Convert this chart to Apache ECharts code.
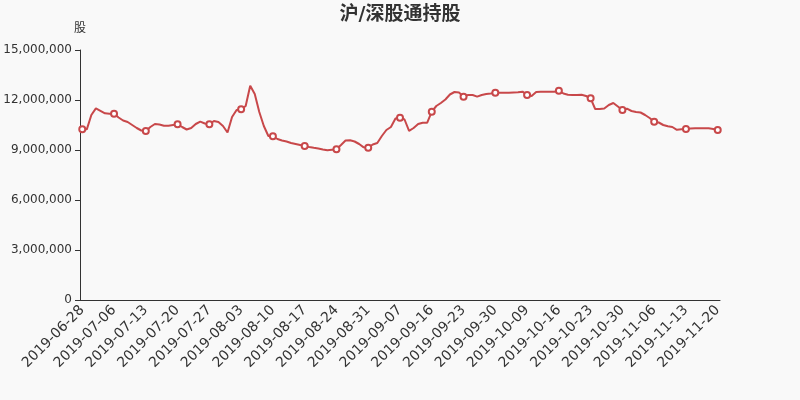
<!DOCTYPE html>
<html>
<head>
<meta charset="utf-8">
<script src="https://cdn.jsdelivr.net/npm/echarts@6/dist/echarts.min.js"></script>
<style>html,body{margin:0;padding:0;background:#f9f9f9;}#c{width:800px;height:400px;}</style>
</head>
<body>
<div id="c"></div>
<script>
var titleText = '沪/深股通持股';
var yName = '股';
var missingDates = ['2019-07-01', '2019-09-13', '2019-09-14', '2019-10-01', '2019-10-07'];
var startDate = '2019-06-28';
var endDate = '2019-11-20';
var holdings = [
  10.24, 10.24, 11.1, 11.5, 11.35, 11.2, 11.18, 11.18, 10.95, 10.77,
  10.68, 10.5, 10.32, 10.17, 10.14, 10.38, 10.56, 10.53, 10.46, 10.46,
  10.5, 10.54, 10.38, 10.23, 10.32, 10.56, 10.7, 10.59, 10.54, 10.74,
  10.68, 10.44, 10.05, 10.98, 11.4, 11.44, 11.64, 12.85, 12.36, 11.28,
  10.44, 9.84, 9.82, 9.66, 9.57, 9.51, 9.42, 9.36, 9.3, 9.24,
  9.18, 9.13, 9.09, 9.03, 8.98, 9.02, 9.04, 9.3, 9.57, 9.58,
  9.51, 9.36, 9.16, 9.14, 9.33, 9.42, 9.84, 10.2, 10.38, 10.89,
  10.94, 10.83, 10.15, 10.32, 10.56, 10.64, 10.64, 11.3, 11.64, 11.82,
  12.03, 12.33, 12.48, 12.45, 12.2, 12.3, 12.3, 12.2, 12.3, 12.36,
  12.39, 12.44, 12.44, 12.44, 12.44, 12.45, 12.46, 12.5, 12.3, 12.24,
  12.48, 12.5, 12.5, 12.5, 12.5, 12.56, 12.39, 12.32, 12.3, 12.3,
  12.32, 12.24, 12.1, 11.46, 11.46, 11.49, 11.7, 11.82, 11.61, 11.4,
  11.48, 11.34, 11.28, 11.25, 11.1, 10.92, 10.7, 10.65, 10.5, 10.42,
  10.38, 10.21, 10.24, 10.26, 10.29, 10.3, 10.3, 10.3, 10.3, 10.26,
  10.2
];

function buildDates(s, e, skip) {
  var out = [];
  var d = new Date(s + 'T00:00:00Z');
  var end = new Date(e + 'T00:00:00Z');
  while (d <= end) {
    var str = d.toISOString().slice(0, 10);
    if (skip.indexOf(str) < 0) out.push(str);
    d.setUTCDate(d.getUTCDate() + 1);
  }
  return out;
}
var dates = buildDates(startDate, endDate, missingDates);
var values = holdings.map(function (v) { return Math.round(v * 1000000); });

var FONT = "'DejaVu Sans', 'Noto Sans CJK SC', sans-serif";
var chart = echarts.init(document.getElementById('c'));
chart.setOption({
  backgroundColor: '#f9f9f9',
  animation: false,
  textStyle: { fontFamily: FONT },
  title: {
    text: titleText,
    left: 'center',
    top: 1,
    textStyle: { fontSize: 19, fontWeight: 'bold', color: '#333', fontFamily: FONT }
  },
  grid: { left: 80, right: 80, top: 50, bottom: 100 },
  xAxis: {
    type: 'category',
    data: dates,
    boundaryGap: true,
    axisLine: { lineStyle: { color: '#333' } },
    axisTick: { interval: 6, lineStyle: { color: '#333' } },
    axisLabel: { interval: 6, rotate: 45, fontSize: 14, color: '#333', fontFamily: FONT }
  },
  yAxis: {
    type: 'value',
    name: yName,
    min: 0,
    max: 15000000,
    interval: 3000000,
    nameTextStyle: { color: '#333', fontSize: 12, fontFamily: FONT },
    axisLine: { show: true, lineStyle: { color: '#333' } },
    axisTick: { show: true, lineStyle: { color: '#333' } },
    splitLine: { show: false },
    axisLabel: {
      color: '#333',
      fontSize: 12,
      fontFamily: FONT,
      formatter: function (v) { return v.toLocaleString('en-US'); }
    }
  },
  series: [{
    type: 'line',
    data: values,
    smooth: false,
    symbol: 'emptyCircle',
    symbolSize: 6,
    showAllSymbol: 'auto',
    itemStyle: { color: '#c8484a', borderWidth: 1 },
    lineStyle: { color: '#c8484a', width: 2 }
  }]
});
</script>
</body>
</html>
